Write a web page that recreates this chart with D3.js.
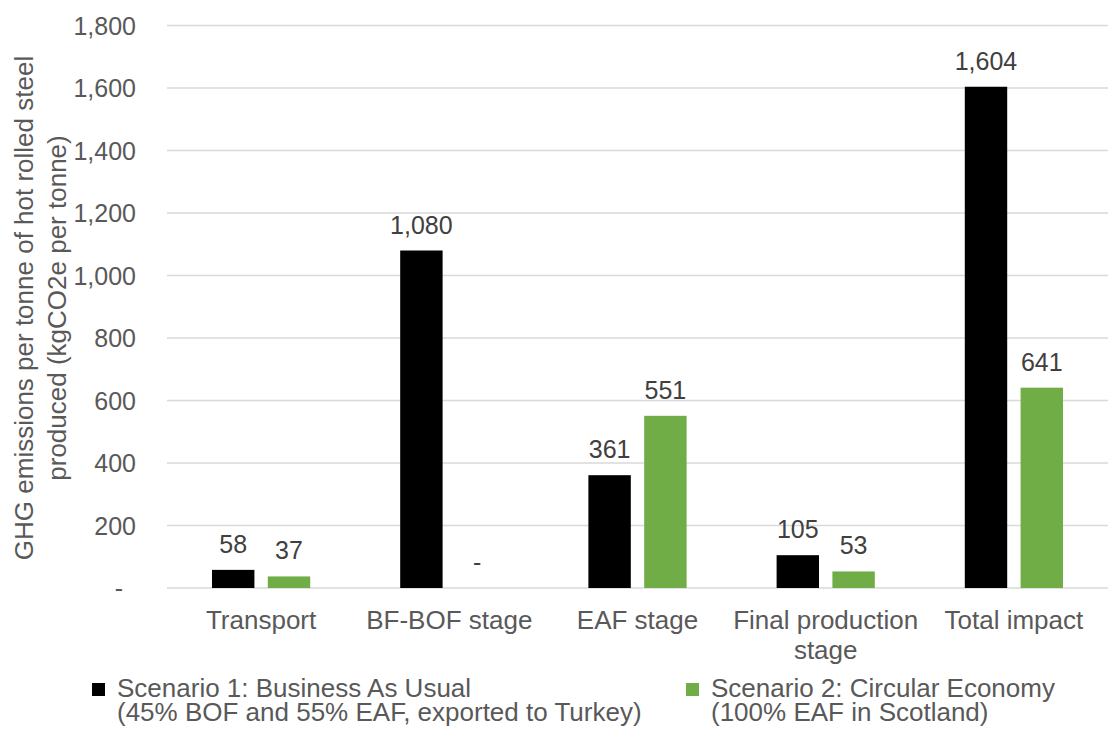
<!DOCTYPE html>
<html>
<head>
<meta charset="utf-8">
<script src="https://cdn.jsdelivr.net/npm/d3@7"></script>
<style>
  body { margin: 0; background: #fff; }
  svg { font-family: "Liberation Sans", Arial, sans-serif; }
</style>
</head>
<body>
<svg width="1110" height="729"></svg>
<script>
var svg = d3.select("svg"),
    width = +svg.attr("width"),
    height = +svg.attr("height");

// data
var categories = [["Transport"], ["BF-BOF stage"], ["EAF stage"], ["Final production", "stage"], ["Total impact"]];
var seriesNames = ["Scenario 1", "Scenario 2"];
var scenario1 = [58, 1080, 361, 105, 1604];
var scenario2 = [37, 0, 551, 53, 641];
var yTicks = [0, 200, 400, 600, 800, 1000, 1200, 1400, 1600, 1800];
var legendLines = [
  ["Scenario 1: Business As Usual", "(45% BOF and 55% EAF, exported to Turkey)"],
  ["Scenario 2: Circular Economy", "(100% EAF in Scotland)"]
];
var colors = ["#000000", "#70ad47"];

var plotLeft = 167, plotRight = 1108, plotTop = 25.5, plotBottom = 588;

var y = d3.scaleLinear().domain([0, 1800]).range([plotBottom, plotTop]);
var x0 = d3.scaleBand().domain(d3.range(categories.length)).range([plotLeft, plotRight]).padding(0);
var x1 = d3.scaleBand().domain(seriesNames).range([45, x0.bandwidth() - 45]).paddingInner(0.24);

var fmt = function(v) { return v === 0 ? "-" : d3.format(",")(v); };

// gridlines
svg.append("g")
  .selectAll("line")
  .data(yTicks)
  .enter()
  .append("line")
    .attr("x1", plotLeft)
    .attr("x2", plotRight)
    .attr("y1", function(d) { return y(d); })
    .attr("y2", function(d) { return y(d); })
    .style("stroke", "#d9d9d9")
    .style("stroke-width", 1.5);

// y tick labels
svg.append("g")
  .selectAll("text")
  .data(yTicks)
  .enter()
  .append("text")
    .attr("x", function(d) { return d === 0 ? 123 : 136; })
    .attr("y", function(d) { return y(d) + 9; })
    .attr("text-anchor", "end")
    .style("font-size", "25px")
    .style("fill", "#595959")
    .text(fmt);

// y title
var yt = svg.append("text")
  .attr("transform", "translate(0,308) rotate(-90)")
  .attr("text-anchor", "middle")
  .style("font-size", "26px")
  .style("fill", "#595959");
yt.append("tspan").attr("x", 0).attr("y", 33).text("GHG emissions per tonne of hot rolled steel");
yt.append("tspan").attr("x", 0).attr("y", 66).text("produced (kgCO2e per tonne)");

// bars
var rows = categories.map(function(c, i) {
  return [{ s: seriesNames[0], v: scenario1[i], c: colors[0] },
          { s: seriesNames[1], v: scenario2[i], c: colors[1] }];
});

var groups = svg.append("g")
  .selectAll("g")
  .data(rows)
  .enter()
  .append("g")
    .attr("transform", function(d, i) { return "translate(" + x0(i) + ",0)"; });

groups.selectAll("rect")
  .data(function(d) { return d; })
  .enter()
  .append("rect")
    .attr("x", function(d) { return x1(d.s); })
    .attr("width", x1.bandwidth())
    .attr("y", function(d) { return y(d.v); })
    .attr("height", function(d) { return plotBottom - y(d.v); })
    .style("fill", function(d) { return d.c; });

groups.selectAll("text")
  .data(function(d) { return d; })
  .enter()
  .append("text")
    .attr("x", function(d) { return x1(d.s) + x1.bandwidth() / 2; })
    .attr("y", function(d) { return y(d.v) - 17; })
    .attr("text-anchor", "middle")
    .style("font-size", "25px")
    .style("fill", "#404040")
    .text(function(d) { return fmt(d.v); });

// category labels
var cl = svg.append("g")
  .selectAll("text")
  .data(categories)
  .enter()
  .append("text")
    .attr("text-anchor", "middle")
    .style("font-size", "26px")
    .style("fill", "#595959");
cl.selectAll("tspan")
  .data(function(d, i) { return d.map(function(t) { return { t: t, i: i }; }); })
  .enter()
  .append("tspan")
    .attr("x", function(d) { return x0(d.i) + x0.bandwidth() / 2; })
    .attr("y", function(d, j) { return 629 + j * 30; })
    .text(function(d) { return d.t; });

// legend
var lg = svg.append("g")
  .selectAll("g")
  .data(legendLines)
  .enter()
  .append("g")
    .attr("transform", function(d, i) { return "translate(" + (i === 0 ? 92 : 686) + ",0)"; });
lg.append("rect")
  .attr("x", 0).attr("y", 683)
  .attr("width", 13).attr("height", 13)
  .style("fill", function(d, i) { return colors[i]; });
lg.append("text")
  .style("font-size", "26px")
  .style("fill", "#595959")
  .selectAll("tspan")
  .data(function(d) { return d; })
  .enter()
  .append("tspan")
    .attr("x", 25)
    .attr("y", function(d, j) { return 697 + j * 24; })
    .text(function(d) { return d; });
</script>
</body>
</html>
